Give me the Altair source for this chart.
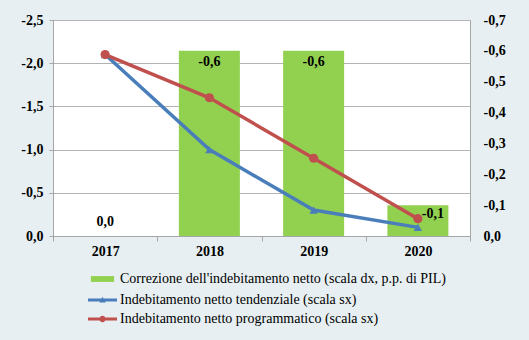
import altair as alt
import pandas as pd

anni = ['2017', '2018', '2019', '2020']
correzione = [0.0, -0.6, -0.6, -0.1]
tendenziale = [-2.1, -1.0, -0.3, -0.1]
programmatico = [-2.1, -1.6, -0.9, -0.2]

nome_corr = "Correzione dell'indebitamento netto (scala dx, p.p. di PIL)"
nome_tend = "Indebitamento netto tendenziale (scala sx)"
nome_prog = "Indebitamento netto programmatico (scala sx)"

tick_sx = [0.0, -0.5, -1.0, -1.5, -2.0, -2.5]
tick_dx = [0.0, -0.1, -0.2, -0.3, -0.4, -0.5, -0.6, -0.7]

GREEN = '#92d050'
BLUE = '#4a7ebb'
RED = '#c0504d'
FONT = 'Liberation Serif'
GRAY = '#a6a6a6'

df_bar = pd.DataFrame({'anno': anni, 'valore': correzione, 'serie': nome_corr})
df_tend = pd.DataFrame({'anno': anni, 'valore': tendenziale, 'serie': nome_tend})
df_prog = pd.DataFrame({'anno': anni, 'valore': programmatico, 'serie': nome_prog})

label_expr = "datum.value == 0 ? '0,0' : '-' + replace(format(abs(datum.value), '.1f'), '.', ',')"
text_expr = "datum.valore == 0 ? '0,0' : '-' + replace(format(abs(datum.valore), '.1f'), '.', ',')"

x_main = alt.X('anno:N', sort=anni,
               scale=alt.Scale(paddingInner=0, paddingOuter=0),
               axis=alt.Axis(title=None, labelAngle=0, tickBand='extent',
                             labelFont=FONT, labelFontSize=14, labelFontWeight='bold',
                             labelColor='#000000', domainColor=GRAY, tickColor=GRAY,
                             tickSize=5, labelPadding=3, grid=False))

y_dx = alt.Y('valore:Q', scale=alt.Scale(domain=[0, -0.7], nice=False, zero=False),
             axis=alt.Axis(orient='right', title=None, values=tick_dx, labelExpr=label_expr,
                           ticks=False, domain=False, grid=False, labelFont=FONT,
                           labelFontSize=14, labelFontWeight='bold', labelColor='#000000',
                           labelPadding=13, labelOverlap=False, labelFlush=False))

y_sx = alt.Y('valore:Q', scale=alt.Scale(domain=[0, -2.5], nice=False, zero=False),
             axis=alt.Axis(orient='left', title=None, values=tick_sx, labelExpr=label_expr,
                           grid=True, gridColor='#b3b3b3', gridWidth=1,
                           domainColor=GRAY, tickColor=GRAY, tickSize=4, labelPadding=6,
                           labelFont=FONT, labelFontSize=14, labelFontWeight='bold',
                           labelColor='#000000', labelOverlap=False, labelFlush=False))

SYM = 841
BAR_SYM = 'M-0.8,-0.2H0.8V0.2H-0.8Z'
TRI_SYM = 'M-1,-0.1H1V0.1H-1Z M-0.22,0.18L0,-0.22L0.22,0.18Z'
CIR_SYM = 'M-1,-0.1H1V0.1H-1Z M-0.22,0A0.22,0.22 0 1,1 0.22,0A0.22,0.22 0 1,1 -0.22,0Z'


def leg(sym, ly):
    return alt.Legend(orient='none', legendX=35, legendY=ly, title=None,
                      symbolType=sym, symbolSize=SYM, symbolStrokeWidth=0,
                      labelFont=FONT, labelFontSize=14, labelColor='#000000',
                      labelLimit=600, labelOffset=3, padding=0)


bars = alt.Chart(df_bar).mark_bar(size=61).encode(
    x=x_main, y=y_dx,
    color=alt.Color('serie:N', scale=alt.Scale(domain=[nome_corr], range=[GREEN]),
                    legend=leg(BAR_SYM, 244.5)))

txt_base = alt.Chart(df_bar).transform_calculate(etichetta=text_expr)
txt_mid = txt_base.transform_filter("datum.anno == '2018' || datum.anno == '2019'").mark_text(
    font=FONT, fontSize=14, fontWeight='bold', baseline='top', dy=4, color='#000000'
).encode(x=x_main, y=y_dx, text='etichetta:N')
txt_zero = txt_base.transform_filter("datum.anno == '2017'").mark_text(
    font=FONT, fontSize=14, fontWeight='bold', baseline='alphabetic', dy=-10, color='#000000'
).encode(x=x_main, y=y_dx, text='etichetta:N')
txt_last = txt_base.transform_filter("datum.anno == '2020'").mark_text(
    font=FONT, fontSize=14, fontWeight='bold', baseline='top', dy=2, dx=15, color='#000000'
).encode(x=x_main, y=y_dx, text='etichetta:N')

bar_layer = alt.layer(bars, txt_mid, txt_zero, txt_last)

tend_line = alt.Chart(df_tend).mark_line(color=BLUE, strokeWidth=3.5).encode(x=x_main, y=y_sx)
tend_pts = alt.Chart(df_tend).mark_point(shape='triangle-up', filled=True, size=70, opacity=1).encode(
    x=x_main, y=y_sx,
    color=alt.Color('serie:N', scale=alt.Scale(domain=[nome_tend], range=[BLUE]),
                    legend=leg(TRI_SYM, 265.5)))
prog_line = alt.Chart(df_prog).mark_line(color=RED, strokeWidth=3.5).encode(x=x_main, y=y_sx)
prog_pts = alt.Chart(df_prog).mark_point(shape='circle', filled=True, size=85, opacity=1).encode(
    x=x_main, y=y_sx,
    color=alt.Color('serie:N', scale=alt.Scale(domain=[nome_prog], range=[RED]),
                    legend=leg(CIR_SYM, 284.5)))

line_layer = alt.layer(tend_line, tend_pts, prog_line, prog_pts).resolve_scale(color='independent')

chart = alt.layer(bar_layer, line_layer).resolve_scale(
    y='independent', color='independent'
).properties(
    width=417, height=216,
    autosize=alt.AutoSizeParams(type='none'),
    padding={'left': 53, 'top': 20, 'right': 59, 'bottom': 104},
    background='#e7eff2'
).configure_view(
    stroke=GRAY, fill='white'
)

chart.save('out.html', embed_options={'renderer': 'svg', 'actions': False})
